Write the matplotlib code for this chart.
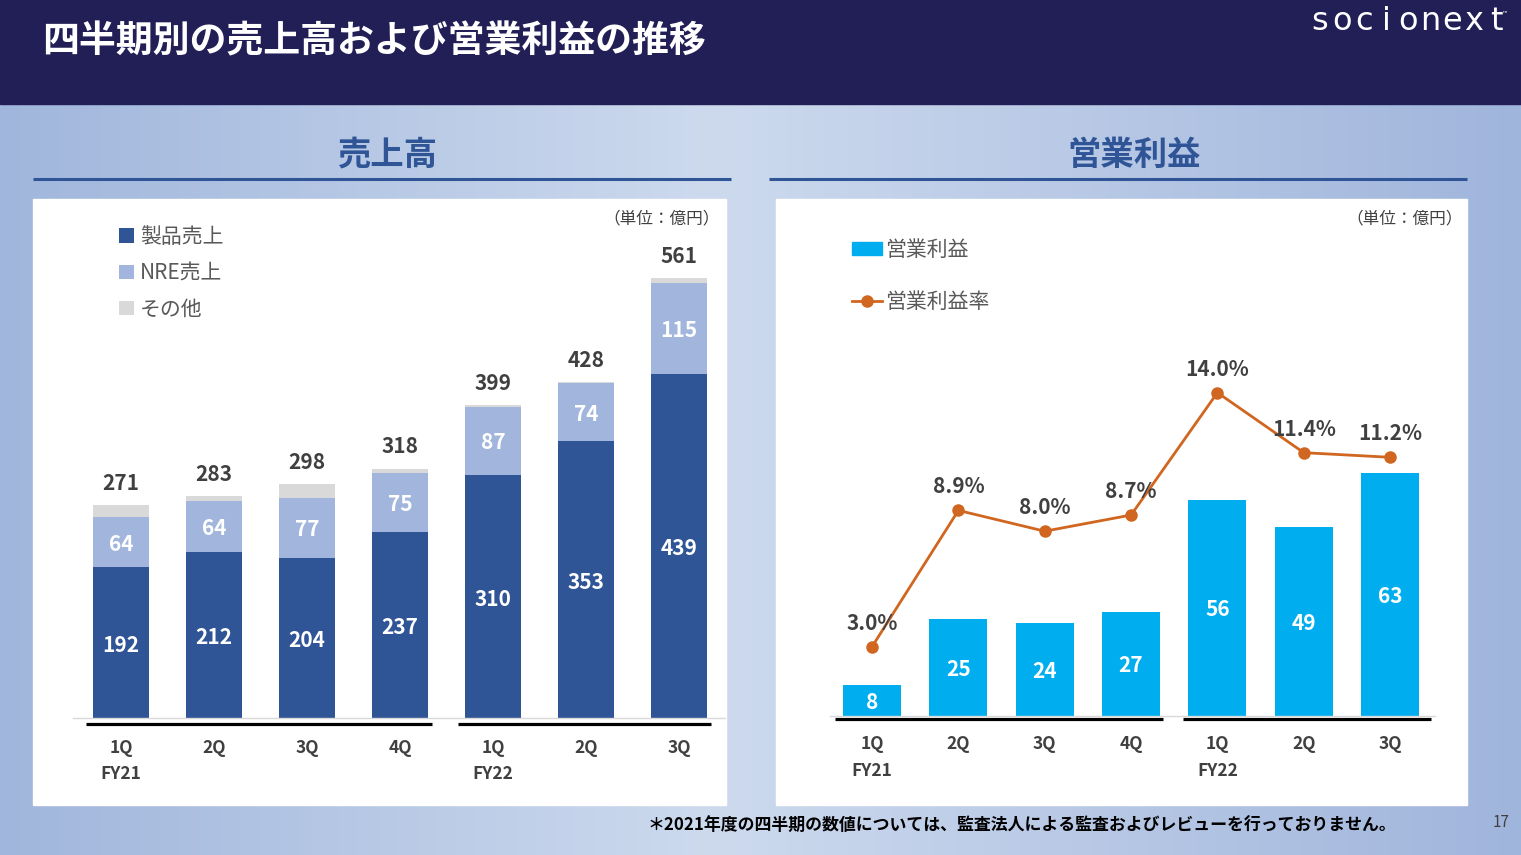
import numpy as np
import matplotlib
matplotlib.use('Agg')
import matplotlib.pyplot as plt
from matplotlib.patches import Rectangle, Patch
from matplotlib.lines import Line2D
import matplotlib.transforms as mtransforms

plt.rcParams['font.family'] = ['Noto Sans CJK JP', 'DejaVu Sans']

# ---------------- data ----------------
quarters = ['1Q', '2Q', '3Q', '4Q', '1Q', '2Q', '3Q']
fiscal_years = ['FY21', '', '', '', 'FY22', '', '']
product_sales = [192, 212, 204, 237, 310, 353, 439]
nre_sales = [64, 64, 77, 75, 87, 74, 115]
other_sales = [15, 7, 17, 6, 2, 1, 7]
total_sales = [271, 283, 298, 318, 399, 428, 561]
op_income = [8, 25, 24, 27, 56, 49, 63]
op_margin = [3.0, 8.9, 8.0, 8.7, 14.0, 11.4, 11.2]
fy_groups = [(0, 3), (4, 6)]

title = '四半期別の売上高および営業利益の推移'
left_title = '売上高'
right_title = '営業利益'
unit_label = '（単位：億円）'
legend_sales = ['製品売上', 'NRE売上', 'その他']
legend_op = ['営業利益', '営業利益率']
footnote = '＊2021年度の四半期の数値については、監査法人による監査およびレビューを行っておりません。'
page_no = '17'

# ---------------- style ----------------
W, H = 1521, 855
NAVY = '#221E56'
DARK_BLUE = '#2F5597'
NRE_BLUE = '#A2B6DD'
OTHER_GRAY = '#D9D9D9'
CYAN = '#00AEEF'
ORANGE = '#D0661F'
TXT = '#404040'
LEG_TXT = '#595959'

fig = plt.figure(figsize=(W / 100, H / 100), dpi=100)


def fig_rect(x0, y0, x1, y1):
    return [x0 / W, 1 - y1 / H, (x1 - x0) / W, (y1 - y0) / H]


# ---------------- background ----------------
bg = fig.add_axes([0, 0, 1, 1])
bg.set_xlim(0, W)
bg.set_ylim(H, 0)
bg.axis('off')
xs = np.linspace(0, 1, 600)
stops_x = [0.0, 0.47, 1.0]
stops_c = np.array([[160, 182, 220], [205, 218, 238], [160, 181, 220]]) / 255
grad = np.stack([np.interp(xs, stops_x, stops_c[:, k]) for k in range(3)], axis=-1)
grad = np.repeat(grad[None, :, :], 2, axis=0)
bg.imshow(grad, extent=(0, W, H, 0), aspect='auto', zorder=0)
bg.add_patch(Rectangle((0, 0), W, 104, color=NAVY, zorder=1))
bg.text(42, 42, title, color='white', fontsize=26.6, fontweight='bold',
        va='center', ha='left', zorder=2)
for i, ch in enumerate('socionext'):
    bg.text(1320 + i * 22, 21, ch, color='white', fontsize=23,
            family=['DejaVu Sans'], fontweight='normal',
            ha='center', va='center', zorder=2)
bg.text(1503, 13, '™', color='white', fontsize=4, ha='left', va='center', zorder=2)

# section headings + underlines
for cx, x0, x1, txt in [(387, 33, 731, left_title), (1134, 769, 1467, right_title)]:
    bg.text(cx, 155, txt, color=DARK_BLUE, fontsize=24, fontweight='bold',
            ha='center', va='center', zorder=2)
    bg.plot([x0, x1], [179, 179], color=DARK_BLUE, lw=2.2, zorder=2,
            solid_capstyle='butt')

# white panels
bg.add_patch(Rectangle((33, 199), 693, 606, color='white', zorder=1))
bg.add_patch(Rectangle((776, 199), 691, 606, color='white', zorder=1))
bg.text(662, 219, unit_label, color=TXT, fontsize=12, ha='center', va='center', zorder=2)
bg.text(1405, 219, unit_label, color=TXT, fontsize=12, ha='center', va='center', zorder=2)
bg.text(648, 826, footnote, color='black', fontsize=12.2, fontweight='bold',
        ha='left', va='center', zorder=2)
bg.text(1501, 822, page_no, color=TXT, fontsize=11, ha='center', va='center', zorder=2)

x = np.arange(len(quarters))
xt_labels = [f'{q}\n{fy}' for q, fy in zip(quarters, fiscal_years)]


def style_axis(ax):
    for s in ['left', 'right', 'top']:
        ax.spines[s].set_visible(False)
    ax.spines['bottom'].set_color(OTHER_GRAY)
    ax.spines['bottom'].set_linewidth(1.0)
    ax.set_yticks([])
    ax.set_facecolor('none')


# ---------------- left chart: sales ----------------
axL = fig.add_axes(fig_rect(73, 230, 725, 718))
style_axis(axL)
prod = np.array(product_sales)
nre = np.array(nre_sales)
oth = np.array(other_sales)
b1 = axL.bar(x, prod, width=0.6, color=DARK_BLUE, label=legend_sales[0])
b2 = axL.bar(x, nre, width=0.6, bottom=prod, color=NRE_BLUE, label=legend_sales[1])
b3 = axL.bar(x, oth, width=0.6, bottom=prod + nre, color=OTHER_GRAY, label=legend_sales[2])
axL.set_xlim(-0.516, 6.495)
axL.set_ylim(0, 622)
axL.set_xticks(x)
axL.set_xticklabels(xt_labels, fontsize=12.5, fontweight='bold', color=TXT,
                    linespacing=1.6)
axL.tick_params(axis='x', length=0, pad=15)
for i in range(len(x)):
    axL.annotate(str(prod[i]), (x[i], prod[i] / 2), xytext=(0, -2),
                 textcoords='offset points', color='white', fontsize=15,
                 fontweight='bold', ha='center', va='center')
    axL.annotate(str(nre[i]), (x[i], prod[i] + nre[i] / 2), xytext=(0, -1.5),
                 textcoords='offset points', color='white', fontsize=15,
                 fontweight='bold', ha='center', va='center')
    axL.annotate(str(total_sales[i]), (x[i], total_sales[i]), xytext=(0, 15.5),
                 textcoords='offset points', color=TXT, fontsize=15,
                 fontweight='bold', ha='center', va='center')
transL = mtransforms.blended_transform_factory(axL.transData, axL.transAxes)
for g0, g1 in fy_groups:
    axL.plot([g0 - 0.38, g1 + 0.34], [-0.012, -0.012], transform=transL,
             clip_on=False, color='black', lw=2.3, solid_capstyle='butt')
fig.legend(handles=[b1, b2, b3], labels=legend_sales, loc='upper left',
           bbox_to_anchor=(119 / W, 1 - 226 / H), frameon=False, fontsize=15,
           handlelength=0.7, handleheight=0.7, handletextpad=0.3,
           labelspacing=0.68, borderpad=0, borderaxespad=0, labelcolor=LEG_TXT)

# ---------------- right chart: operating income ----------------
axR = fig.add_axes(fig_rect(830, 230, 1435, 716))
style_axis(axR)
bars = axR.bar(x, op_income, width=0.67, color=CYAN, label=legend_op[0])
axR.set_xlim(-0.487, 6.52)
axR.set_ylim(0, 125.9)
axR.set_xticks(x)
axR.set_xticklabels(xt_labels, fontsize=12.5, fontweight='bold', color=TXT,
                    linespacing=1.6)
axR.tick_params(axis='x', length=0, pad=14)
for i in range(len(x)):
    axR.annotate(str(op_income[i]), (x[i], op_income[i] / 2), xytext=(0, -1.5),
                 textcoords='offset points', color='white', fontsize=15,
                 fontweight='bold', ha='center', va='center')
transR = mtransforms.blended_transform_factory(axR.transData, axR.transAxes)
for (g0, g1), (a, b) in zip(fy_groups, [(0.43, 0.37), (0.40, 0.47)]):
    axR.plot([g0 - a, g1 + b], [-0.006, -0.006], transform=transR,
             clip_on=False, color='black', lw=2.3, solid_capstyle='butt')

axR2 = axR.twinx()
axR2.set_ylim(0, 21.04)
for s in ['left', 'right', 'top', 'bottom']:
    axR2.spines[s].set_visible(False)
axR2.set_yticks([])
line, = axR2.plot(x, op_margin, color=ORANGE, lw=2, marker='o', markersize=8,
                  label=legend_op[1])
for i in range(len(x)):
    axR2.annotate(f'{op_margin[i]:.1f}%', (x[i], op_margin[i]), xytext=(0, 17),
                  textcoords='offset points', color=TXT, fontsize=15,
                  fontweight='bold', ha='center', va='center')

fig.legend(handles=[Patch(color=CYAN), line], labels=legend_op, loc='upper left',
           bbox_to_anchor=(852 / W, 1 - 239 / H), frameon=False, fontsize=15,
           handlelength=1.45, handleheight=0.6, handletextpad=0.15,
           labelspacing=1.45, borderpad=0, borderaxespad=0, labelcolor=LEG_TXT)

fig.savefig('out.png', dpi=100)
